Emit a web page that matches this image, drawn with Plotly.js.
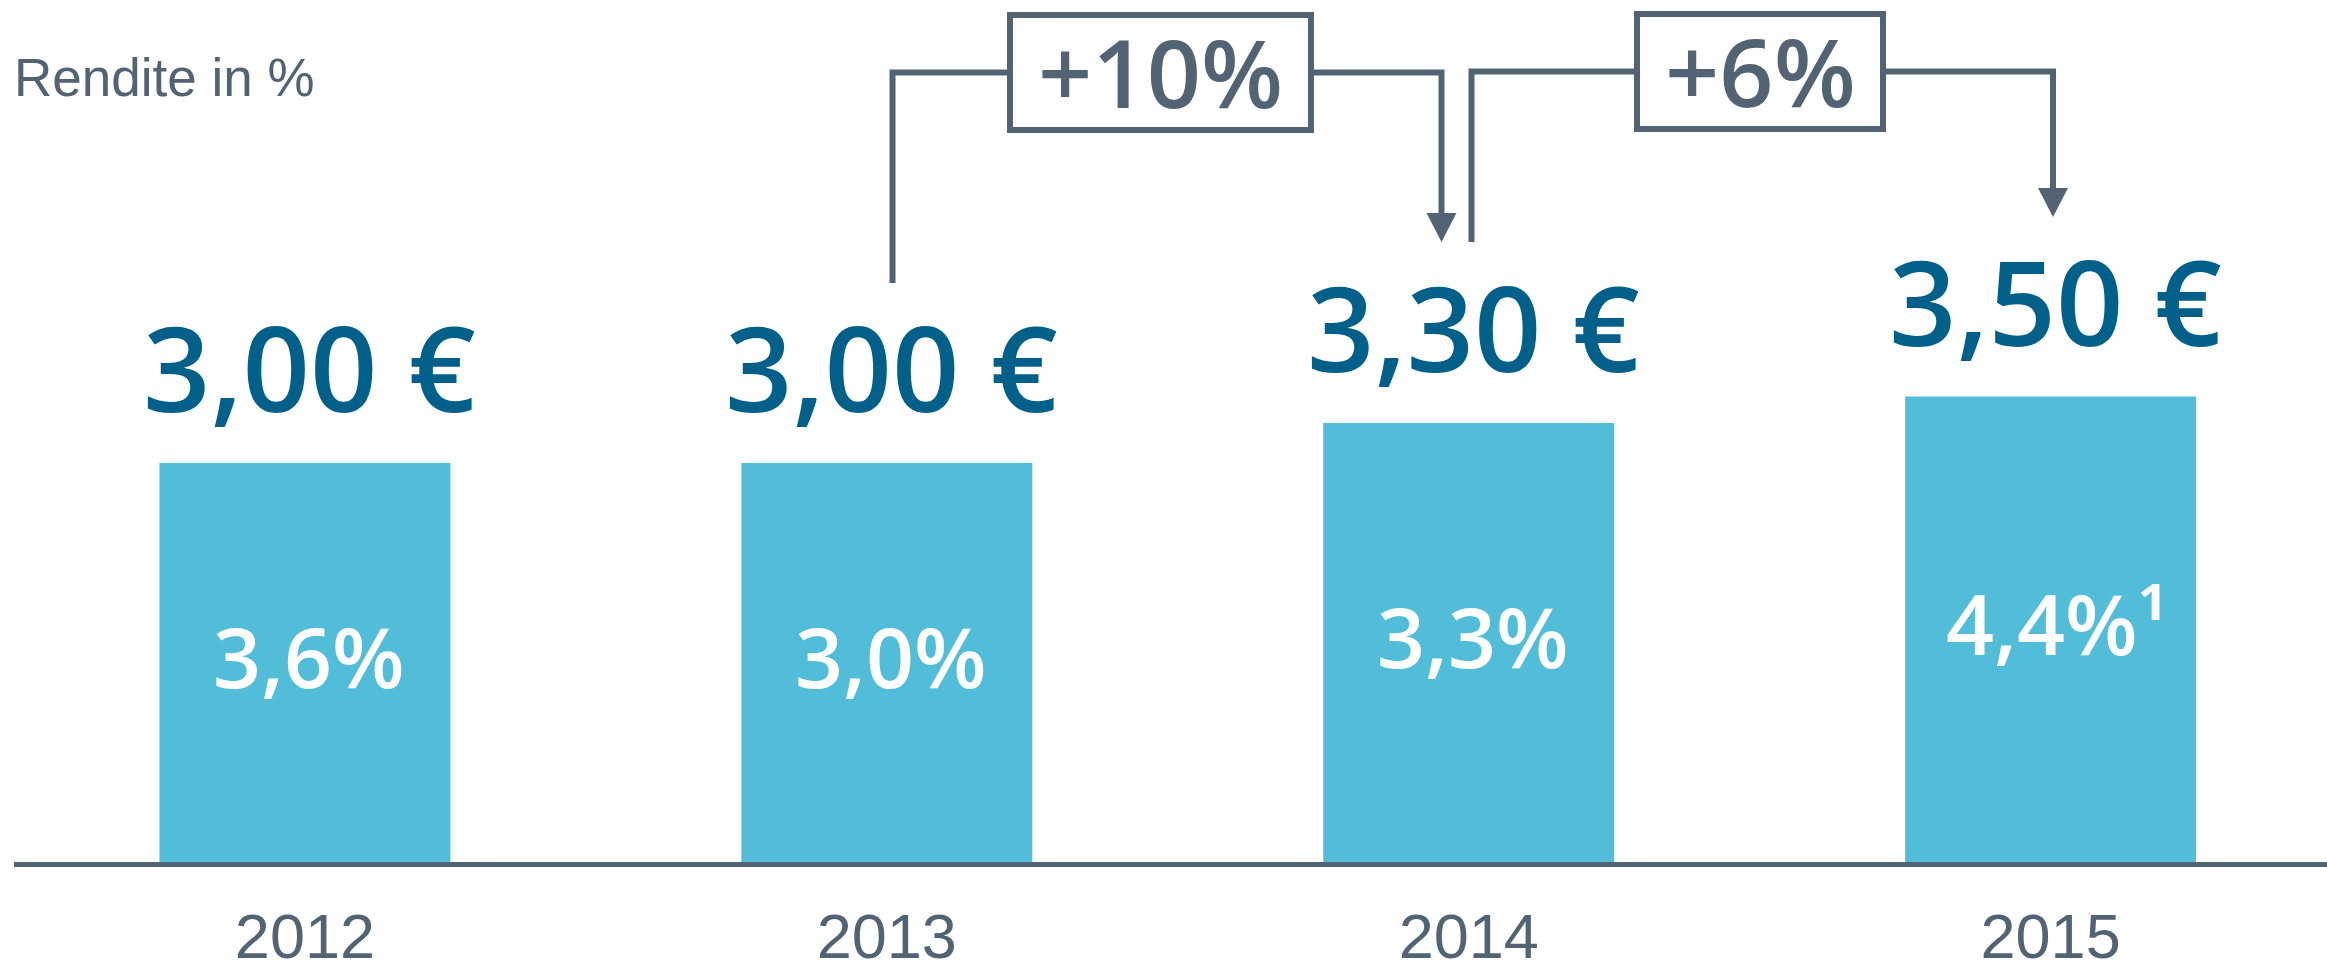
<!DOCTYPE html>
<html>
<head>
<meta charset="utf-8">
<script src="https://cdn.plot.ly/plotly-3.0.1.min.js"></script>
<style>html,body{margin:0;padding:0;background:#fff;}#chart{width:2327px;height:964px;}</style>
</head>
<body>
<div id="chart"></div>
<script>
// ---- data ----
const years = ['2012', '2013', '2014', '2015'];
const dividend = [3.00, 3.00, 3.30, 3.50];          // € per share
const yieldPct = [3.6, 3.0, 3.3, 4.4];              // Rendite in %
const yieldNote = ['', '', '', '¹'];
const axisTitle = 'Rendite in %';
const growthPairs = [[1, 2], [2, 3]];               // 2013→2014, 2014→2015

// ---- styles ----
const SLATE = '#526474';
const DARK = '#00608A';
const BAR = '#52BDD8';
const W = 2327, H = 964;
const M = {l: 14, r: 0, t: 0, b: 102};
const plotW = W - M.l - M.r, plotH = H - M.t - M.b;
const xRange = [-0.5, 3.475];
const yRange = [0, 862 / 133];

const fmt = v => v.toFixed(2).replace('.', ',') + ' €';
const fmtPct = (v, n) => v.toFixed(1).replace('.', ',') + '%' + n;

// pixel -> paper helpers for decorations
const px = x => (x - M.l) / plotW;
const py = y => (H - M.b - y) / plotH;

const trace = {
  type: 'bar',
  x: years,
  y: dividend,
  marker: {color: BAR},
  hoverinfo: 'skip'
};

const annotations = [];
dividend.forEach((v, i) => {
  annotations.push({
    xref: 'x', yref: 'y', x: i, y: v,
    xanchor: 'center', yanchor: 'bottom', yshift: 14, xshift: 5,
    text: fmt(v), showarrow: false,
    font: {family: 'Open Sans', size: 118, color: DARK, weight: 600}
  });
  annotations.push({
    xref: 'x', yref: 'y', x: i, y: v / 2,
    xanchor: 'center', yanchor: 'middle', yshift: 7, xshift: yieldNote[i] ? 6 : 4,
    text: fmtPct(yieldPct[i], yieldNote[i]), showarrow: false,
    font: {family: 'Open Sans', size: 84, color: '#ffffff', weight: 600}
  });
});
annotations.push({
  xref: 'paper', yref: 'paper', x: 0, y: 1, xanchor: 'left', yanchor: 'top',
  xshift: -2, yshift: -46,
  text: axisTitle, showarrow: false,
  font: {family: 'Liberation Sans, Arial', size: 53, color: SLATE}
});

// growth boxes (pixel geometry of the callouts)
const boxes = [
  {x0: 1010, x1: 1311, y0: 15, y1: 130, yc: 72.5, start: 892.5, startY: 283, end: 1441.5, headTop: 213, tip: 242},
  {x0: 1637, x1: 1883, y0: 14, y1: 129, yc: 71.5, start: 1471.5, startY: 242, end: 2053, headTop: 188, tip: 217}
];
const shapes = [];
growthPairs.forEach((p, k) => {
  const b = boxes[k];
  const g = Math.round((dividend[p[1]] / dividend[p[0]] - 1) * 100);
  const ln = {color: SLATE, width: 6};
  shapes.push({type: 'path', xref: 'paper', yref: 'paper', line: ln,
    path: `M${px(b.start)},${py(b.startY)} L${px(b.start)},${py(b.yc)} L${px(b.x0)},${py(b.yc)}`});
  shapes.push({type: 'path', xref: 'paper', yref: 'paper', line: ln,
    path: `M${px(b.x1)},${py(b.yc)} L${px(b.end)},${py(b.yc)} L${px(b.end)},${py(b.headTop)}`});
  shapes.push({type: 'rect', xref: 'paper', yref: 'paper', line: ln, fillcolor: 'rgba(0,0,0,0)',
    x0: px(b.x0), x1: px(b.x1), y0: py(b.y1), y1: py(b.y0)});
  shapes.push({type: 'path', xref: 'paper', yref: 'paper', line: {width: 0}, fillcolor: SLATE,
    path: `M${px(b.end - 15)},${py(b.headTop)} L${px(b.end + 15)},${py(b.headTop)} L${px(b.end)},${py(b.tip)} Z`});
  annotations.push({
    xref: 'paper', yref: 'paper', x: px((b.x0 + b.x1) / 2), y: py(b.yc - 1.5),
    xanchor: 'center', yanchor: 'middle', showarrow: false,
    text: '+' + g + '%',
    font: {family: 'Open Sans', size: 95, color: SLATE, weight: 600}
  });
});

const layout = {
  width: W, height: H,
  margin: M,
  paper_bgcolor: '#ffffff', plot_bgcolor: '#ffffff',
  showlegend: false,
  bargap: 0.5,
  xaxis: {
    type: 'category', range: xRange, fixedrange: true,
    showline: true, linecolor: SLATE, linewidth: 5,
    ticks: '', showgrid: false, zeroline: false,
    ticklabelstandoff: 15,
    tickfont: {family: 'Liberation Sans, Arial', size: 63, color: SLATE}
  },
  yaxis: {range: yRange, visible: false, fixedrange: true, showgrid: false, zeroline: false},
  annotations: annotations,
  shapes: shapes
};

Plotly.newPlot('chart', [trace], layout, {displayModeBar: false, staticPlot: true});
</script>
</body>
</html>
